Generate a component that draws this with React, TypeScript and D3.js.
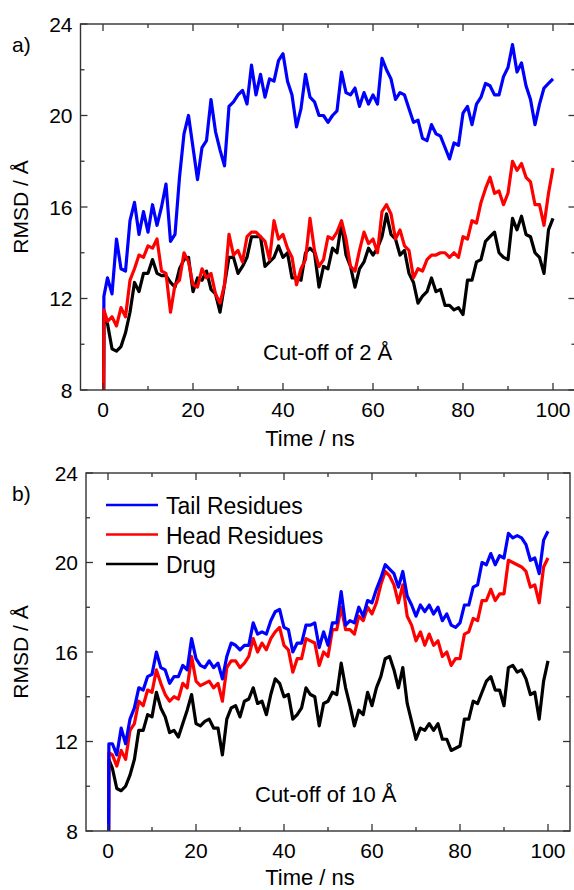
import React from "react";
import * as d3 from "d3";

// time grid in ns (first frame + first saved point, then every ns)
const time = [0, 0.2, ...d3.range(1, 101)];

// a) cut-off of 2 Å
const tailA = [0, 12.1,
  12.9, 12.2, 14.6, 13.3, 13.2, 15.4, 16.2, 14.8, 15.8, 14.9,
  16.1, 15.2, 16.0, 17.0, 14.5, 14.8, 17.3, 19.2, 20.0, 18.6,
  17.2, 18.6, 18.9, 20.7, 19.3, 18.5, 17.8, 20.4, 20.6, 20.9,
  21.1, 20.5, 22.2, 20.9, 21.8, 20.8, 21.6, 21.5, 22.4, 22.7,
  21.5, 20.9, 19.5, 20.3, 21.8, 20.8, 20.6, 20.0, 20.0, 19.7,
  20.0, 20.2, 21.9, 21.0, 20.9, 21.2, 20.4, 21.0, 20.5, 20.9,
  20.5, 22.5, 22.0, 21.6, 20.7, 21.0, 20.9, 20.3, 19.7, 19.8,
  19.0, 18.9, 19.6, 19.2, 19.1, 18.6, 18.1, 18.8, 18.7, 20.1,
  20.4, 19.6, 20.5, 20.8, 21.4, 21.3, 20.9, 20.9, 21.7, 22.1,
  23.1, 21.9, 22.3, 21.3, 20.7, 19.6, 20.5, 21.2, 21.4, 21.6];
const headA = [0, 11.5,
  11.0, 11.2, 10.8, 11.6, 11.2, 12.8, 13.3, 13.9, 13.8, 14.3,
  14.2, 14.6, 13.2, 13.1, 11.4, 12.6, 12.8, 14.0, 13.6, 12.6,
  12.5, 13.3, 12.9, 13.1, 12.2, 11.8, 12.6, 14.8, 13.9, 14.1,
  13.6, 14.7, 14.9, 14.9, 14.7, 14.5, 13.7, 15.4, 14.6, 14.8,
  14.2, 13.8, 12.6, 13.3, 13.7, 15.5, 14.1, 13.4, 13.7, 14.7,
  14.6, 14.9, 15.4, 14.6, 13.4, 13.2, 14.1, 14.9, 14.4, 14.6,
  14.0, 15.8, 16.1, 15.7, 14.6, 15.0, 14.3, 14.1, 12.9, 13.3,
  13.2, 13.7, 13.9, 13.9, 14.0, 14.0, 13.8, 14.0, 13.8, 14.7,
  14.6, 15.4, 15.3, 16.2, 16.8, 17.3, 16.6, 16.7, 16.1, 16.6,
  18.0, 17.6, 17.9, 17.3, 17.1, 16.1, 16.1, 15.2, 16.6, 17.7];
const drugA = [0, 11.2,
  10.9, 9.8, 9.7, 9.9, 10.5, 11.4, 12.7, 12.3, 13.1, 13.1,
  13.7, 13.1, 13.0, 13.0, 12.7, 12.5, 13.3, 13.7, 13.8, 12.3,
  12.9, 12.8, 13.2, 12.4, 12.2, 11.4, 12.6, 13.8, 13.8, 13.1,
  13.4, 13.8, 14.7, 14.7, 14.7, 13.4, 13.6, 13.8, 14.3, 13.8,
  14.0, 12.9, 12.9, 12.8, 14.0, 14.2, 14.0, 12.5, 13.4, 13.3,
  14.2, 14.0, 15.3, 13.9, 13.4, 12.5, 13.3, 13.6, 14.2, 13.9,
  14.2, 14.7, 15.7, 14.8, 14.6, 13.9, 14.1, 13.1, 12.7, 11.8,
  12.1, 12.3, 12.9, 12.3, 12.4, 11.7, 11.7, 11.5, 11.6, 11.3,
  12.8, 12.8, 13.6, 13.7, 14.5, 14.7, 14.9, 14.0, 13.8, 13.7,
  15.5, 15.0, 15.6, 14.8, 14.7, 14.0, 13.8, 13.1, 15.0, 15.5];

// b) cut-off of 10 Å
const tailB = [0, 11.9,
  11.9, 11.4, 12.6, 11.9, 13.0, 13.5, 14.4, 14.3, 14.9, 15.0,
  16.0, 15.3, 15.2, 14.6, 14.9, 14.9, 15.4, 15.2, 16.6, 15.7,
  15.4, 15.3, 15.6, 15.3, 15.5, 14.8, 15.8, 16.4, 16.3, 16.1,
  16.3, 16.3, 17.3, 16.8, 16.9, 16.8, 17.4, 17.8, 17.9, 17.1,
  17.0, 16.0, 16.4, 16.4, 17.2, 17.2, 17.3, 16.2, 16.9, 16.3,
  17.3, 17.3, 18.7, 17.2, 17.4, 17.3, 18.0, 17.6, 18.3, 18.2,
  18.8, 19.3, 19.9, 19.7, 19.5, 18.9, 19.6, 18.5, 18.1, 17.6,
  18.1, 17.8, 18.1, 17.7, 18.0, 17.4, 17.7, 17.2, 17.1, 17.3,
  18.1, 18.1, 18.9, 19.0, 20.0, 19.9, 20.4, 19.9, 20.3, 20.2,
  21.3, 21.1, 21.2, 21.1, 20.8, 20.1, 20.2, 19.5, 21.0, 21.4];
const headB = [0, 11.5,
  11.4, 10.9, 11.6, 11.2, 12.5, 12.8, 13.8, 13.6, 14.3, 14.2,
  15.2, 14.6, 14.1, 13.8, 14.0, 13.9, 14.6, 14.4, 15.8, 14.7,
  14.5, 14.6, 14.7, 14.4, 14.6, 13.8, 15.3, 15.6, 15.6, 15.3,
  15.5, 15.8, 16.6, 16.0, 16.4, 16.1, 16.6, 16.9, 17.1, 16.3,
  16.1, 15.1, 15.7, 15.7, 16.6, 16.5, 16.4, 15.4, 16.0, 15.8,
  17.0, 17.0, 18.0, 17.0, 17.0, 16.8, 17.6, 17.4, 18.0, 17.7,
  18.2, 19.0, 19.6, 19.4, 19.0, 18.2, 19.0, 17.6, 17.2, 16.5,
  16.9, 16.3, 16.8, 16.3, 16.5, 15.8, 16.0, 15.4, 15.7, 15.7,
  16.8, 16.9, 17.5, 17.4, 18.3, 18.3, 18.8, 18.3, 18.6, 18.6,
  20.1, 20.0, 19.9, 19.8, 19.6, 18.9, 19.0, 18.2, 19.8, 20.2];
const drugB = [0, 11.2,
  10.8, 9.9, 9.8, 10.0, 10.5, 11.2, 12.5, 12.5, 13.2, 13.1,
  14.2, 13.5, 13.1, 12.4, 12.5, 12.2, 12.8, 13.4, 14.1, 12.8,
  12.7, 12.9, 13.0, 12.6, 12.6, 11.4, 13.0, 13.5, 13.6, 13.1,
  13.8, 13.9, 14.4, 13.7, 13.8, 13.2, 14.1, 14.8, 14.6, 14.0,
  14.1, 13.0, 13.2, 13.5, 14.4, 14.1, 14.0, 12.7, 13.7, 13.8,
  14.2, 14.1, 15.5, 14.4, 13.6, 12.7, 13.4, 13.2, 14.2, 13.6,
  14.4, 14.9, 15.7, 15.8, 15.2, 14.4, 15.3, 13.7, 12.9, 12.1,
  12.6, 12.5, 12.8, 12.5, 12.8, 12.1, 12.1, 11.6, 11.7, 11.8,
  13.0, 13.0, 13.8, 13.7, 14.2, 14.7, 14.9, 14.3, 14.3, 13.6,
  15.3, 15.4, 15.1, 15.2, 14.8, 14.1, 14.2, 13.0, 14.7, 15.6];

const seriesNames = ["Tail Residues", "Head Residues", "Drug"];
const seriesColors = ["#0000ff", "#ff0000", "#000000"];
const xTicks = [0, 20, 40, 60, 80, 100];
const yTicks = [8, 12, 16, 20, 24];

const FONT = "'Liberation Sans', Arial, sans-serif";

function Panel(props) {
  const { id, left, right, top, bottom, tag, cutoff, cutX, cutY, titleY, order, series, legend } = props;
  const x = d3.scaleLinear().domain([-5, 105]).range([left, right]);
  const y = d3.scaleLinear().domain([8, 24]).range([bottom, top]);
  const line = d3.line().x((d, i) => x(time[i])).y((d) => y(d));
  const minorX = d3.range(10, 100, 20);
  const minorY = d3.range(10, 24, 4);
  const frame = "#333";
  const midY = (top + bottom) / 2;

  return (
    <g>
      <defs>
        <clipPath id={id}>
          <rect x={left} y={top} width={right - left} height={bottom - top} />
        </clipPath>
      </defs>
      <g clipPath={`url(#${id})`}>
        {order.map((k) => (
          <path key={k} d={line(series[k])} fill="none" stroke={seriesColors[k]}
            strokeWidth={3.2} strokeLinejoin="round" />
        ))}
      </g>
      <rect x={left} y={top} width={right - left} height={bottom - top}
        fill="none" stroke={frame} strokeWidth={1.4} />
      {xTicks.map((t) => (
        <g key={"x" + t}>
          <line x1={x(t)} x2={x(t)} y1={bottom} y2={bottom - 7} stroke={frame} strokeWidth={1.3} />
          <line x1={x(t)} x2={x(t)} y1={top} y2={top + 7} stroke={frame} strokeWidth={1.3} />
          <text x={x(t)} y={bottom + 27} textAnchor="middle" fontSize={21}>{t}</text>
        </g>
      ))}
      {minorX.map((t) => (
        <g key={"mx" + t}>
          <line x1={x(t)} x2={x(t)} y1={bottom} y2={bottom - 4} stroke={frame} strokeWidth={1.3} />
          <line x1={x(t)} x2={x(t)} y1={top} y2={top + 4} stroke={frame} strokeWidth={1.3} />
        </g>
      ))}
      {yTicks.map((v) => (
        <g key={"y" + v}>
          <line x1={left} x2={left + 7} y1={y(v)} y2={y(v)} stroke={frame} strokeWidth={1.3} />
          <line x1={right} x2={right - 7} y1={y(v)} y2={y(v)} stroke={frame} strokeWidth={1.3} />
          <text x={left - 8} y={y(v) + 7.5} textAnchor="end" fontSize={21}>{v}</text>
        </g>
      ))}
      {minorY.map((v) => (
        <g key={"my" + v}>
          <line x1={left} x2={left + 4} y1={y(v)} y2={y(v)} stroke={frame} strokeWidth={1.3} />
          <line x1={right} x2={right - 4} y1={y(v)} y2={y(v)} stroke={frame} strokeWidth={1.3} />
        </g>
      ))}
      <text x={12} y={top + 28} fontSize={21}>{tag}</text>
      <text transform={`translate(28,${midY}) rotate(-90)`} textAnchor="middle" fontSize={21}>RMSD / Å</text>
      <text x={310} y={titleY} textAnchor="middle" fontSize={22}>Time / ns</text>
      <text x={cutX} y={cutY} fontSize={22}>{cutoff}</text>
      {legend &&
        seriesNames.map((name, k) => (
          <g key={name}>
            <line x1={106} x2={158} y1={top + 32 + k * 29.5} y2={top + 32 + k * 29.5}
              stroke={seriesColors[k]} strokeWidth={2.4} />
            <text x={166} y={top + 41 + k * 29.5} fontSize={23}>{name}</text>
          </g>
        ))}
    </g>
  );
}

export default function App() {
  return (
    <svg width={574} height={890} style={{ position: "absolute", left: 0, top: 0, background: "#fff" }}
      fontFamily={FONT} fill="#000">
      <Panel id="clipA" left={80.5} right={575.5} top={24} bottom={390} tag="a)"
        cutoff="Cut-off of 2 Å" cutX={263} cutY={360} titleY={446}
        order={[0, 2, 1]} series={[tailA, headA, drugA]} legend={false} />
      <Panel id="clipB" left={86} right={570} top={473} bottom={831} tag="b)"
        cutoff="Cut-off of 10 Å" cutX={255} cutY={802} titleY={885}
        order={[2, 1, 0]} series={[tailB, headB, drugB]} legend={true} />
    </svg>
  );
}
